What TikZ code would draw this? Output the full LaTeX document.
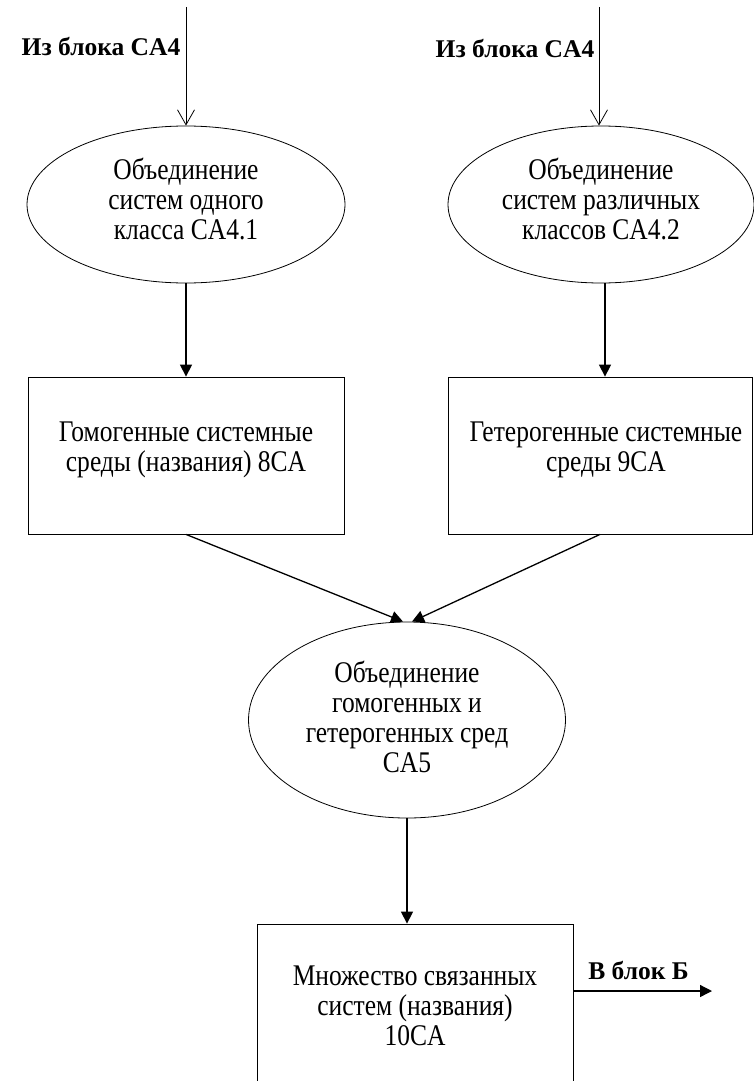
\documentclass[tikz,border=0pt]{standalone}
\usepackage{fontspec}
\setmainfont{Liberation Serif}
\newfontfamily\bodyf[FakeStretch=0.85]{Liberation Serif}
\usetikzlibrary{shapes.geometric,arrows.meta}
\tikzset{
  shp/.style={draw, line width=0.8pt, inner sep=0pt, align=center,
    font=\bodyf\fontsize{30}{30}\selectfont},
  ell/.style={shp, ellipse},
  boxx/.style={shp, rectangle},
  lbl/.style={inner sep=0pt, font=\bfseries\fontsize{25.5}{28}\selectfont},
  thin arrow/.style={line width=0.8pt, -{Straight Barb[length=15pt,width=17pt,line width=0.8pt]}},
  fat arrow/.style={line width=1.3pt, -{Triangle[length=12pt,width=12pt]}},
}
\begin{document}
\begin{tikzpicture}[x=1pt,y=-1pt]
\clip (0,0) rectangle (754,1081);
\fill[white] (0,0) rectangle (754,1081);
% shapes
\node[ell, minimum width=318pt, minimum height=157pt, text depth=11pt] (e1) at (186,204.5)
  {Объединение\\систем одного\\класса CA4.1};
\node[ell, minimum width=306pt, minimum height=157pt, text depth=11pt] (e2) at (601,204.5)
  {Объединение\\систем различных\\классов CA4.2};
\node[boxx, minimum width=316pt, minimum height=157pt, text depth=17pt] (b1) at (186,455.5)
  {Гомогенные системные\\среды (названия) 8CA};
\node[boxx, minimum width=304pt, minimum height=157pt, text depth=17pt] (b2) at (600,455.5)
  {\hspace*{12pt}Гетерогенные системные\\\hspace*{12pt}среды 9CA};
\node[ell, minimum width=317pt, minimum height=196pt, text depth=6pt] (e3) at (407,720)
  {Объединение\\гомогенных и\\гетерогенных сред\\CA5};
\node[boxx, minimum width=316pt, minimum height=164pt] (b3) at (415,1006)
  {Множество связанных\\систем (названия)\\10CA};
% labels
\node[lbl] (l1) at (101,46) {Из блока CA4};
\node[lbl] (l2) at (515,48) {Из блока CA4};
\node[lbl] (l3) at (638.5,970) {В блок Б};
% connectors
\coordinate (in1) at (186,7);
\coordinate (in2) at (599,7);
\coordinate (out) at (712,991);
\draw[thin arrow] (in1) -- (e1.north);
\draw[thin arrow] (in2) -- (in2 |- e2.north);
\draw[fat arrow] (e1.south) -- (b1.north);
\draw[fat arrow] ([xshift=4pt]e2.south) -- ([xshift=4pt]e2.south |- b2.north);
\draw[fat arrow] (b1.south) -- ([xshift=-4pt]e3.north);
\draw[fat arrow] (b2.south) -- ([xshift=5pt]e3.north);
\draw[fat arrow] (e3.south) -- (e3.south |- b3.north);
\draw[fat arrow] (out -| b3.east) -- (out);
\end{tikzpicture}
\end{document}
